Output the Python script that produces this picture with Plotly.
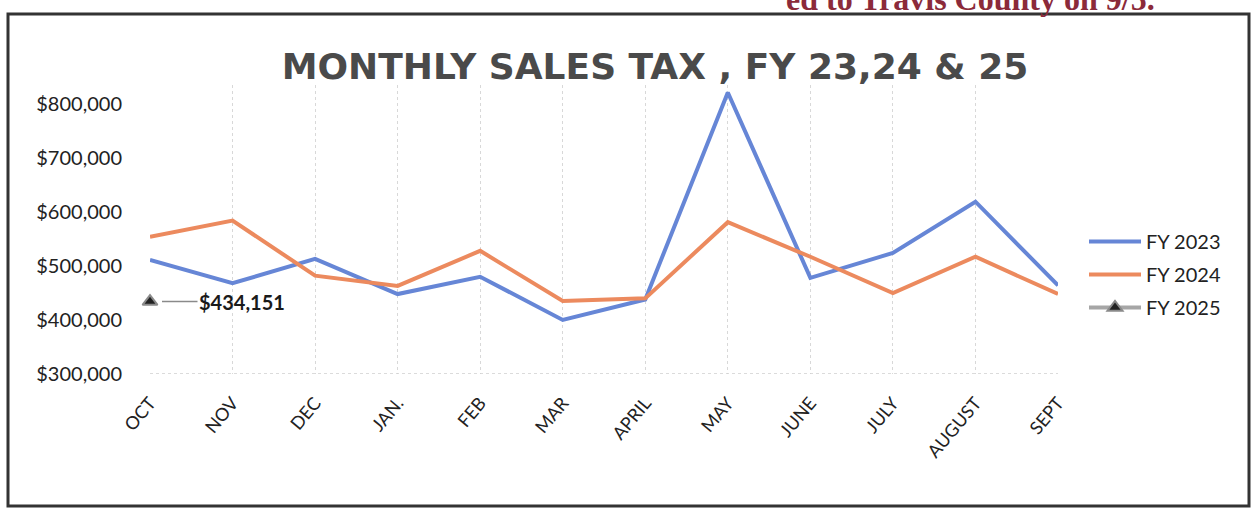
import plotly.graph_objects as go

months = ["OCT", "NOV", "DEC", "JAN.", "FEB", "MAR", "APRIL", "MAY", "JUNE", "JULY", "AUGUST", "SEPT"]
fy2023 = [511000, 468000, 513000, 448000, 480000, 400000, 438000, 821000, 478000, 524000, 619000, 464000]
fy2024 = [554000, 584000, 482000, 463000, 528000, 435000, 440000, 581000, 517000, 450000, 517000, 448000]
fy2025_months = ["OCT"]
fy2025 = [434151]
y_ticks = [300000, 400000, 500000, 600000, 700000, 800000]

W, H = 1253, 510
L, R, T, B = 150, 1058, 85, 374

def px(x):
    return (x - L) / (R - L)

def py(y):
    return (B - y) / (B - T)

fig = go.Figure()
fig.add_trace(go.Scatter(x=months, y=fy2023, mode="lines", name="FY 2023", legendgroup="a",
                         line=dict(color="#6686D6", width=4)))
fig.add_trace(go.Scatter(x=months, y=fy2024, mode="lines", name="FY 2024", legendgroup="b",
                         line=dict(color="#EC8A5E", width=4)))
fig.add_trace(go.Scatter(x=fy2025_months, y=fy2025, mode="lines+markers", name="FY 2025",
                         legendgroup="c", cliponaxis=False,
                         line=dict(color="#A6A6A6", width=4),
                         marker=dict(symbol="triangle-up", size=13, color="#222222",
                                     line=dict(color="#8A8A8A", width=2))))

fig.add_annotation(x="OCT", y=fy2025[0], text="<b>$434,151</b>", showarrow=True,
                   ax=92, ay=0, arrowhead=0, arrowwidth=1.5, arrowcolor="#8A8A8A",
                   standoff=12, xanchor="center",
                   font=dict(family="Lato", size=20, color="#1a1a1a"))

fig.add_annotation(xref="paper", yref="paper", x=px(1157), y=py(-1), xanchor="right", yanchor="middle",
                   text="<b>ed to Travis County on 9/5.</b>", showarrow=False,
                   font=dict(family="Liberation Serif", size=32, color="#8B2A3A"))

# outer frame
fig.add_shape(type="rect", xref="paper", yref="paper",
              x0=px(8), x1=px(1249), y0=py(506), y1=py(14),
              line=dict(color="#333333", width=3), layer="below")
# bottom axis dotted line
fig.add_shape(type="line", xref="paper", yref="y", x0=0, x1=1, y0=300000, y1=300000,
              line=dict(color="#CFCFCF", width=1.5, dash="dot"))

fig.update_layout(
    width=W, height=H,
    margin=dict(l=L, r=W - R, t=T, b=H - B),
    paper_bgcolor="white", plot_bgcolor="white",
    title=dict(text="<b>MONTHLY SALES TAX , FY 23,24 & 25</b>", x=655 / W, xanchor="center",
               xref="container", y=1 - 66 / H, yanchor="middle",
               font=dict(family="DejaVu Sans", size=36, color="#4a4a4a")),
    legend=dict(x=px(1084), y=py(222), xanchor="left", yanchor="top",
                font=dict(family="Lato", size=20, color="#222222"),
                tracegroupgap=4, itemwidth=52, bgcolor="rgba(0,0,0,0)"),
    font=dict(family="Lato"),
)
fig.update_xaxes(type="category", categoryorder="array", categoryarray=months,
                 range=[0, 11], showgrid=True, gridcolor="#D8D8D8", griddash="dot", gridwidth=1,
                 showline=False, zeroline=False, tickangle=-50, ticks="", ticklabelstandoff=14,
                 tickfont=dict(family="Lato", size=18, color="#222222"))
fig.update_yaxes(range=[300000, 835000], tickvals=y_ticks,
                 ticktext=[f"${v:,}" for v in y_ticks], showgrid=False, zeroline=False,
                 showline=False, ticks="", ticklabelstandoff=27,
                 tickfont=dict(family="Lato", size=20, color="#222222"))

fig.write_html("out.html", config={"displayModeBar": False},
               post_script="document.body.style.margin='0';document.body.style.overflow='hidden';")
